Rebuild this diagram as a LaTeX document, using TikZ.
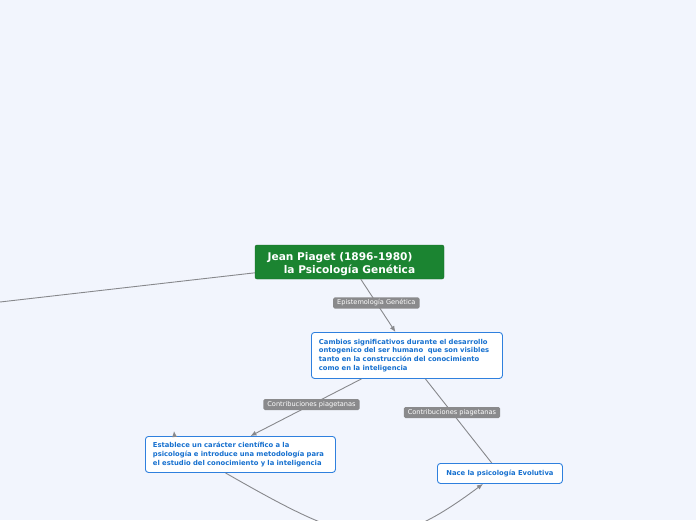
\documentclass[tikz,border=0pt]{standalone}
\usepackage{fontspec}
\setmainfont{DejaVu Sans}
\usepackage{tikz}
\usetikzlibrary{arrows.meta,positioning,calc}
\definecolor{canvas}{HTML}{F2F5FD}
\definecolor{rootg}{HTML}{1B8431}
\definecolor{topic}{HTML}{2F80DE}
\definecolor{topictxt}{HTML}{1670CF}
\definecolor{linkc}{HTML}{87888C}
\definecolor{tagc}{HTML}{8A8A8C}
\tikzset{
  rootbox/.style={draw=rootg!80!black,line width=0.4pt,rounded corners=2pt,fill=rootg,
    text=white,font=\fontsize{10.6}{12.5}\selectfont\bfseries,align=center,
    minimum width=189pt,minimum height=34pt,inner sep=2pt},
  topicbox/.style={draw=topic,line width=0.9pt,rounded corners=3pt,fill=white,
    text=topictxt,font=\fontsize{6.8}{8.7}\selectfont\bfseries,align=left,
    inner xsep=7.5pt,inner ysep=3pt,anchor=north west},
  tag/.style={fill=tagc,rounded corners=1.5pt,text=white,inner xsep=4pt,inner ysep=2.3pt,
    font=\fontsize{6.6}{7}\selectfont},
  link/.style={draw=linkc,line width=0.9pt},
  flow/.style={link,-{Latex[length=6pt,width=5pt]}},
}
\begin{document}
\begin{tikzpicture}[x=1pt,y=-1pt]
  \fill[canvas] (0,0) rectangle (696,520);
  \useasboundingbox (0,0) rectangle (696,520);
  % main topic
  \node[rootbox] (piaget) at (349.5,262)
    {\rule{0pt}{12pt}Jean Piaget (1896-1980)\hspace*{19pt}\\la Psicología Genética};
  % subtopics
  \node[topicbox,text width=176pt,minimum height=46pt] (cambios) at (311,332)
    {Cambios significativos durante el desarrollo\\ontogenico del ser humano\ \ que son visibles\\
     tanto en la construcción del conocimiento\\como en la inteligencia};
  \node[topicbox,text width=175pt,minimum height=36pt] (establece) at (145,436)
    {Establece un carácter científico a la\\psicología e introduce una metodología para\\
     el estudio del conocimiento y la inteligencia};
  \node[topicbox,minimum width=125pt,minimum height=20pt,align=center] (nace) at (437,463)
    {Nace la psicología Evolutiva};
  \coordinate (offleft) at (0,302);
  \coordinate (stub) at (174,431);
  % connectors
  \draw[link] (piaget) -- (offleft);
  \draw[flow] (piaget) -- ([xshift=-11.5pt]cambios.north)
     node[tag,pos=0.45]{Epistemología Genética};
  \draw[flow] (cambios) -- ([xshift=10pt]establece.north)
     node[tag,pos=0.45]{Contribuciones piagetanas};
  \draw[link] (cambios) -- (nace)
     node[tag,pos=0.4]{Contribuciones piagetanas};
  \draw[flow] ([xshift=-15pt]establece.south) .. controls (355,547) and (385,557) .. ([xshift=-17pt]nace.south);
  \draw[flow] ([xshift=-66pt]establece.north) -- (stub);
\end{tikzpicture}
\end{document}
